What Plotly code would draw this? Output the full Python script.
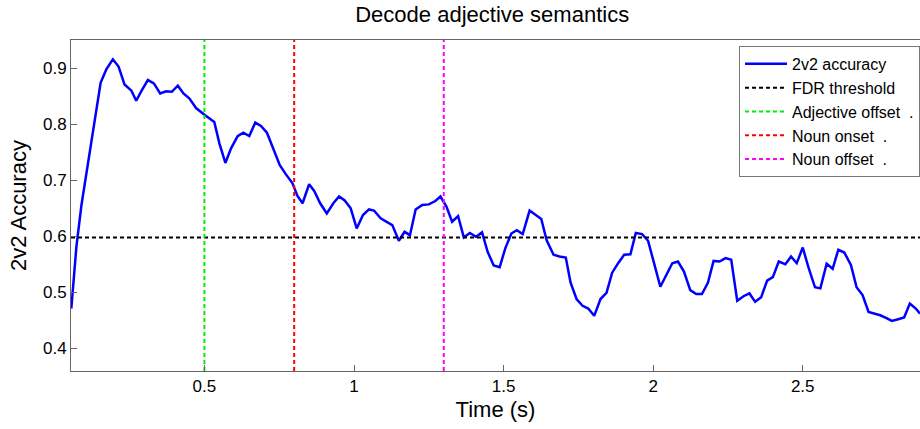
import plotly.graph_objects as go

time_s = [
    0.055, 0.072, 0.089, 0.111, 0.133, 0.153, 0.172, 0.194, 0.213, 0.233,
    0.256, 0.272, 0.291, 0.311, 0.331, 0.352, 0.372, 0.391, 0.411, 0.430,
    0.450, 0.472, 0.500, 0.533, 0.550, 0.570, 0.589, 0.611, 0.630, 0.650,
    0.670, 0.689, 0.709, 0.731, 0.752, 0.772, 0.794, 0.811, 0.828, 0.850,
    0.867, 0.887, 0.909, 0.931, 0.950, 0.969, 0.989, 1.009, 1.030, 1.050,
    1.067, 1.089, 1.109, 1.128, 1.150, 1.169, 1.187, 1.206, 1.228, 1.250,
    1.272, 1.289, 1.309, 1.328, 1.348, 1.367, 1.387, 1.408, 1.428, 1.447,
    1.467, 1.487, 1.506, 1.526, 1.544, 1.564, 1.587, 1.606, 1.626, 1.644,
    1.667, 1.687, 1.708, 1.724, 1.744, 1.764, 1.783, 1.803, 1.824, 1.844,
    1.863, 1.883, 1.903, 1.924, 1.942, 1.963, 1.983, 2.003, 2.024, 2.044,
    2.064, 2.083, 2.103, 2.124, 2.144, 2.163, 2.183, 2.202, 2.222, 2.242,
    2.261, 2.281, 2.302, 2.322, 2.341, 2.361, 2.381, 2.400, 2.420, 2.442,
    2.461, 2.480, 2.500, 2.520, 2.541, 2.559, 2.580, 2.600, 2.619, 2.639,
    2.661, 2.680, 2.700, 2.720, 2.739, 2.759, 2.780, 2.798, 2.819, 2.839,
    2.858, 2.878, 2.892,
]

accuracy = [
    0.471, 0.581, 0.656, 0.730, 0.805, 0.874, 0.898, 0.916, 0.903, 0.871,
    0.860, 0.842, 0.861, 0.879, 0.873, 0.855, 0.859, 0.858, 0.869, 0.855,
    0.846, 0.829, 0.817, 0.804, 0.766, 0.731, 0.757, 0.779, 0.785, 0.779,
    0.803, 0.797, 0.785, 0.754, 0.727, 0.711, 0.695, 0.672, 0.659, 0.693,
    0.681, 0.659, 0.641, 0.659, 0.671, 0.664, 0.650, 0.614, 0.638, 0.648,
    0.646, 0.632, 0.626, 0.620, 0.592, 0.608, 0.602, 0.648, 0.656, 0.657,
    0.663, 0.671, 0.653, 0.626, 0.636, 0.598, 0.606, 0.599, 0.607, 0.572,
    0.548, 0.545, 0.579, 0.605, 0.611, 0.604, 0.646, 0.639, 0.631, 0.593,
    0.567, 0.564, 0.562, 0.517, 0.488, 0.476, 0.471, 0.458, 0.488, 0.499,
    0.535, 0.552, 0.567, 0.568, 0.606, 0.604, 0.592, 0.552, 0.510, 0.531,
    0.552, 0.555, 0.537, 0.504, 0.497, 0.497, 0.517, 0.556, 0.555, 0.561,
    0.558, 0.485, 0.493, 0.498, 0.483, 0.491, 0.521, 0.527, 0.555, 0.550,
    0.564, 0.552, 0.580, 0.543, 0.509, 0.507, 0.551, 0.542, 0.576, 0.571,
    0.549, 0.509, 0.495, 0.465, 0.462, 0.459, 0.454, 0.449, 0.452, 0.455,
    0.480, 0.471, 0.462,
]
assert len(time_s) == len(accuracy)

fdr_threshold = 0.598
event_names = ["Adjective offset  .", "Noun onset  .", "Noun offset  ."]
event_times = [0.5, 0.8, 1.3]
event_colors = ["#00ee00", "#ff0000", "#ff00ff"]

x_range = [0.054, 2.892]
y_range = [0.3595, 0.9505]
x_ticks = [0.5, 1, 1.5, 2, 2.5]
y_ticks = [0.4, 0.5, 0.6, 0.7, 0.8, 0.9]

fig = go.Figure()
fig.add_trace(go.Scatter(x=time_s, y=accuracy, mode="lines", name="2v2 accuracy",
                         line=dict(color="#0000ff", width=2.5)))
fig.add_trace(go.Scatter(x=x_range, y=[fdr_threshold, fdr_threshold], mode="lines",
                         name="FDR threshold",
                         line=dict(color="black", width=2, dash="4px,3px")))
for name, t, c in zip(event_names, event_times, event_colors):
    fig.add_trace(go.Scatter(x=[t, t], y=y_range, mode="lines", name=name,
                             line=dict(color=c, width=2, dash="4px,3px")))

font_family = "Liberation Sans, Arial, sans-serif"
fig.update_layout(
    width=920, height=429,
    margin=dict(l=71, r=0, t=40, b=58),
    paper_bgcolor="white", plot_bgcolor="white",
    font=dict(family=font_family, color="black", size=16),
    title=dict(text="Decode adjective semantics", x=0.535, xanchor="center",
               y=0.966, yanchor="middle", font=dict(size=22)),
    showlegend=True,
    legend=dict(x=1, xanchor="right", y=0.982, yanchor="top",
                bgcolor="white", bordercolor="#777777", borderwidth=1,
                font=dict(size=16), itemwidth=42, tracegroupgap=0),
    xaxis=dict(range=x_range, tickvals=x_ticks, ticktext=["0.5", "1", "1.5", "2", "2.5"],
               ticks="inside", ticklen=6, tickcolor="#666666", showgrid=False,
               zeroline=False, showline=True, linecolor="#666666", linewidth=1,
               mirror=True, title=dict(text="Time (s)", font=dict(size=22), standoff=6),
               tickfont=dict(size=17)),
    yaxis=dict(range=y_range, tickvals=y_ticks, ticktext=["0.4", "0.5", "0.6", "0.7", "0.8", "0.9"],
               ticks="inside", ticklen=6, tickcolor="#666666", showgrid=False,
               zeroline=False, showline=True, linecolor="#666666", linewidth=1,
               title=dict(text="2v2 Accuracy", font=dict(size=22), standoff=10),
               tickfont=dict(size=17)),
)

fig.write_html("out.html")
